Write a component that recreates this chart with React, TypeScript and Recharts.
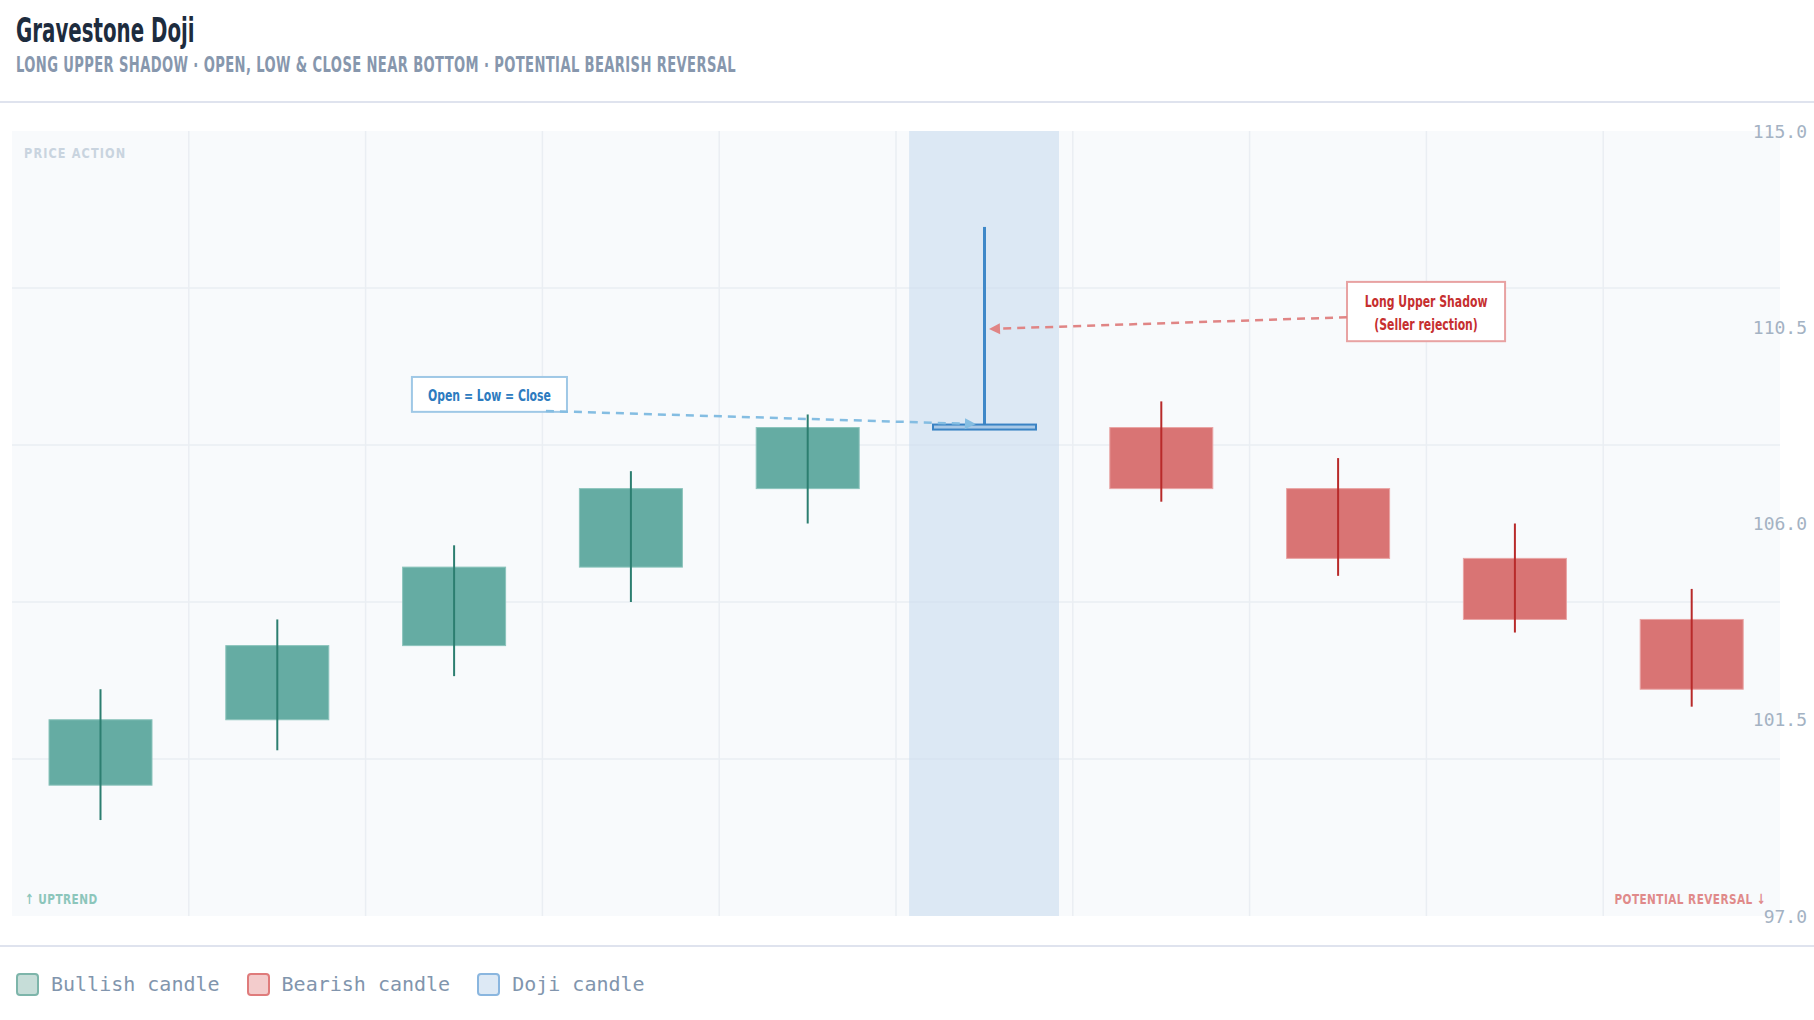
import React from 'react';
import {
  ComposedChart,
  Bar,
  XAxis,
  YAxis,
  CartesianGrid,
  ReferenceArea,
  ReferenceLine,
  Label,
} from 'recharts';

const sessions = ['S1', 'S2', 'S3', 'S4', 'S5', 'S6', 'S7', 'S8', 'S9', 'S10'];
const opens = [100.0, 101.5, 103.2, 105.0, 106.8, 108.2, 108.2, 106.8, 105.2, 103.8];
const highs = [102.2, 103.8, 105.5, 107.2, 108.5, 112.8, 108.8, 107.5, 106.0, 104.5];
const lows = [99.2, 100.8, 102.5, 104.2, 106.0, 108.2, 106.5, 104.8, 103.5, 101.8];
const closes = [101.5, 103.2, 105.0, 106.8, 108.2, 108.2, 106.8, 105.2, 103.8, 102.2];

const priceTicks = [97, 101.5, 106, 110.5, 115];
const gridPrices = [100.6, 104.2, 107.8, 111.4];
const sessionEdges = [1, 2, 3, 4, 5, 6, 7, 8, 9];

const legendItems = [
  { label: 'Bullish candle', fill: '#c6ddd8', border: '#7db5aa' },
  { label: 'Bearish candle', fill: '#f3cccc', border: '#df7b7b' },
  { label: 'Doji candle', fill: '#dde9f5', border: '#8ab6df' },
];

const SANS = '"DejaVu Sans", "Noto Sans", sans-serif';
const MONO = '"DejaVu Sans Mono", "Liberation Mono", monospace';

const data = sessions.map((name, i) => ({
  name,
  pos: i + 0.5,
  open: opens[i],
  high: highs[i],
  low: lows[i],
  close: closes[i],
}));

// no condensed face installed, so squeeze DejaVu Bold horizontally
const CondText = ({ x, y, anchor = 'start', fill, size = 15, sx = 0.75, spacing = 0, children }: any) => (
  <text
    transform={`translate(${x},${y}) scale(${sx},1)`}
    textAnchor={anchor}
    dominantBaseline="central"
    fill={fill}
    fontFamily={SANS}
    fontWeight={700}
    fontSize={size}
    letterSpacing={spacing}
  >
    {children}
  </text>
);

const Candle = (props: any) => {
  const { x, y, width, height, payload } = props;
  const top = Math.min(y, y + height);
  const h = Math.abs(height);
  const k = h / (payload.high - payload.low);
  const yOf = (v: number) => top + (payload.high - v) * k;
  const cx = x + width / 2;
  const bodyTop = yOf(Math.max(payload.open, payload.close));
  const bodyBottom = yOf(Math.min(payload.open, payload.close));

  if (payload.open === payload.close) {
    return (
      <g>
        <line x1={cx} x2={cx} y1={top} y2={bodyTop} stroke="#3f88c8" strokeWidth={3} />
        <rect x={x} y={bodyTop - 3} width={width} height={5} fill="#a8c8e6" stroke="#3a83c4" strokeWidth={2} />
      </g>
    );
  }
  const bull = payload.close > payload.open;
  return (
    <g>
      <rect
        x={x}
        y={bodyTop}
        width={width}
        height={bodyBottom - bodyTop}
        fill={bull ? '#65aca3' : '#d97474'}
        stroke={bull ? '#8cc4bc' : '#e9a4a4'}
        strokeWidth={1}
      />
      <line x1={cx} x2={cx} y1={top} y2={top + h} stroke={bull ? '#2c7e70' : '#b82a2a'} strokeWidth={2} />
    </g>
  );
};

const Arrow = (color: string) => (props: any) => {
  const { x1, y1, x2, y2 } = props;
  const ang = Math.atan2(y2 - y1, x2 - x1);
  const len = 11;
  const wid = 5.5;
  const bx = x2 - len * Math.cos(ang);
  const by = y2 - len * Math.sin(ang);
  const px = -Math.sin(ang) * wid;
  const py = Math.cos(ang) * wid;
  return (
    <g>
      <line x1={x1} y1={y1} x2={bx} y2={by} stroke={color} strokeWidth={2.5} strokeDasharray="8 6" />
      <polygon points={`${x2},${y2} ${bx + px},${by + py} ${bx - px},${by - py}`} fill={color} />
    </g>
  );
};

const NoteBox = (lines: string[], color: string, border: string) => (props: any) => {
  const { x, y, width, height } = props;
  const lh = 23;
  const start = y + height / 2 - ((lines.length - 1) * lh) / 2;
  return (
    <g>
      <rect x={x} y={y} width={width} height={height} fill="#ffffff" stroke={border} strokeWidth={2} />
      {lines.map((t, i) => (
        <CondText key={t} x={x + width / 2} y={start + i * lh + 1} anchor="middle" fill={color} size={16} sx={0.68}>
          {t}
        </CondText>
      ))}
    </g>
  );
};

const PlotNotes = (props: any) => {
  const { x, y, width, height } = props.viewBox;
  return (
    <g>
      <CondText x={x + 12} y={y + 22} fill="#c9d4df" size={14.5} sx={0.78} spacing={1.4}>PRICE ACTION</CondText>
      <CondText x={x + 13} y={y + height - 17} fill="#8cc6bb" size={14} spacing={0.6}>↑ UPTREND</CondText>
      <CondText x={x + width - 14} y={y + height - 17} anchor="end" fill="#e08a8a" size={14} spacing={0.6}>
        POTENTIAL REVERSAL ↓
      </CondText>
    </g>
  );
};

const PriceTick = (props: any) => {
  const { x, y, payload } = props;
  return (
    <text x={x + 27} y={y} textAnchor="end" dominantBaseline="central" fill="#a4b2c3" fontFamily={MONO} fontSize={18}>
      {payload.value.toFixed(1)}
    </text>
  );
};

const App: React.FC = () => {
  return (
    <div style={{ position: 'absolute', left: 0, top: 0, width: 1814, height: 1020, background: '#ffffff', overflow: 'hidden' }}>
      <div
        style={{
          position: 'absolute',
          left: 16,
          top: 11,
          fontFamily: SANS,
          fontWeight: 700,
          fontSize: 33,
          color: '#1d2c3e',
          whiteSpace: 'nowrap',
          transform: 'scaleX(0.6)',
          transformOrigin: 'left top',
        }}
      >
        Gravestone Doji
      </div>
      <div
        style={{
          position: 'absolute',
          left: 16,
          top: 53,
          fontFamily: SANS,
          fontWeight: 700,
          fontSize: 21,
          letterSpacing: 0.6,
          color: '#8797ad',
          whiteSpace: 'nowrap',
          transform: 'scaleX(0.625)',
          transformOrigin: 'left top',
        }}
      >
        LONG UPPER SHADOW · OPEN, LOW &amp; CLOSE NEAR BOTTOM · POTENTIAL BEARISH REVERSAL
      </div>
      <div style={{ position: 'absolute', left: 0, top: 101, width: 1814, height: 2, background: '#dfe3ee' }} />

      <div style={{ position: 'absolute', left: 0, top: 102 }}>
        <ComposedChart width={1814} height={844} data={data} margin={{ top: 29, right: 0, bottom: 30, left: 12 }}>
          <CartesianGrid
            xAxisId="num"
            fill="#f8fafc"
            stroke="#eaeef3"
            strokeWidth={1.5}
            horizontalValues={gridPrices}
            verticalValues={sessionEdges}
          />
          <XAxis xAxisId="cat" dataKey="name" hide />
          <XAxis xAxisId="num" dataKey="pos" type="number" domain={[0, 10]} allowDataOverflow hide />
          <YAxis
            orientation="right"
            width={34}
            domain={[97, 115]}
            ticks={priceTicks}
            allowDataOverflow
            axisLine={false}
            tickLine={false}
            tickSize={0}
            tickMargin={0}
            tick={<PriceTick />}
          />
          <ReferenceArea xAxisId="num" x1={5.074} x2={5.922} fill="#c9dcee" fillOpacity={0.6} stroke="none" ifOverflow="visible" />
          <ReferenceArea xAxisId="num" x1={0} x2={10} fill="none" stroke="none" ifOverflow="visible">
            <Label content={<PlotNotes />} />
          </ReferenceArea>
          <Bar xAxisId="cat" dataKey={(d: any) => [d.low, d.high]} barSize={103} shape={<Candle />} isAnimationActive={false} />
          <ReferenceArea
            xAxisId="num"
            x1={2.262}
            x2={3.139}
            y1={108.56}
            y2={109.36}
            ifOverflow="visible"
            shape={NoteBox(['Open = Low = Close'], '#2d7bbf', '#9fc8e6')}
          />
          <ReferenceArea
            xAxisId="num"
            x1={7.551}
            x2={8.445}
            y1={110.18}
            y2={111.54}
            ifOverflow="visible"
            shape={NoteBox(['Long Upper Shadow', '(Seller rejection)'], '#c62f2f', '#e8a2a2')}
          />
          <ReferenceLine
            xAxisId="num"
            ifOverflow="visible"
            segment={[{ x: 3.02, y: 108.58 }, { x: 5.452, y: 108.28 }]}
            shape={Arrow('#84bde2')}
          />
          <ReferenceLine
            xAxisId="num"
            ifOverflow="visible"
            segment={[{ x: 7.551, y: 110.73 }, { x: 5.526, y: 110.46 }]}
            shape={Arrow('#e08585')}
          />
        </ComposedChart>
      </div>

      <div style={{ position: 'absolute', left: 0, top: 945, width: 1814, height: 2, background: '#dfe3ee' }} />
      <div style={{ position: 'absolute', left: 16, top: 972, display: 'flex', alignItems: 'center' }}>
        {legendItems.map((it) => (
          <div key={it.label} style={{ display: 'flex', alignItems: 'center', marginRight: 27 }}>
            <div
              style={{
                width: 19,
                height: 19,
                background: it.fill,
                border: `2px solid ${it.border}`,
                borderRadius: 4,
                marginRight: 12,
              }}
            />
            <span style={{ fontFamily: MONO, fontSize: 20, color: '#8195ad' }}>{it.label}</span>
          </div>
        ))}
      </div>
    </div>
  );
};

export default App;
